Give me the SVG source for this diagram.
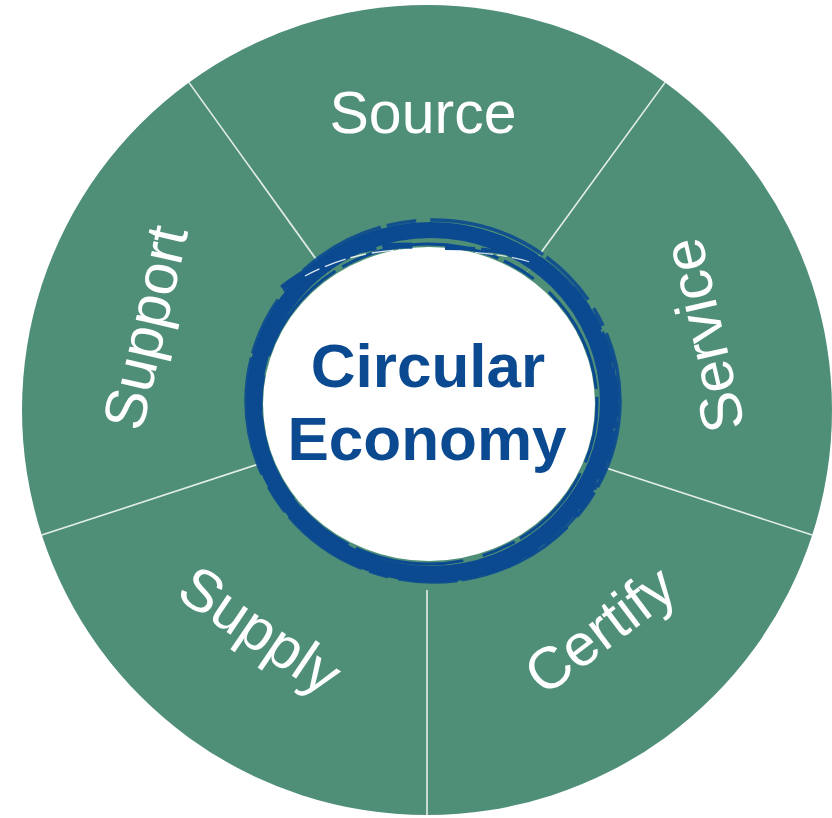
<svg xmlns="http://www.w3.org/2000/svg" width="832" height="818" viewBox="0 0 832 818">
  <style>
    .wedge { fill: #4f8f78; }
    .divider { stroke: #e4eee9; stroke-width: 1.6; stroke-linecap: butt; }
    .label { font-family: "Liberation Sans", Arial, sans-serif; font-size: 59px; fill: #ffffff; text-anchor: middle; }
    .center-text { font-family: "Liberation Sans", Arial, sans-serif; font-size: 62px; font-weight: bold; fill: #0b4a90; text-anchor: middle; }
    .brush { fill: none; stroke: #0b4a90; stroke-linecap: butt; }
  </style>
  <rect width="832" height="818" fill="#ffffff"/>

  <g id="segment-source">
    <path class="wedge" d="M427,410 L188.9,82.4 A405,405 0 0 1 665.1,82.4 Z"/>
    <text class="label" x="423" y="133">Source</text>
  </g>
  <g id="segment-service">
    <path class="wedge" d="M427,410 L665.1,82.4 A405,405 0 0 1 812.2,535.1 Z"/>
    <text class="label" transform="translate(723,331) rotate(-103)" x="0" y="0">Service</text>
  </g>
  <g id="segment-certify">
    <path class="wedge" d="M427,410 L812.2,535.1 A405,405 0 0 1 427,815 Z"/>
    <text class="label" transform="translate(612,646) rotate(-37)" x="0" y="0">Certify</text>
  </g>
  <g id="segment-supply">
    <path class="wedge" d="M427,410 L427,815 A405,405 0 0 1 41.8,535.1 Z"/>
    <text class="label" transform="translate(249,647) rotate(34)" x="0" y="0">Supply</text>
  </g>
  <g id="segment-support">
    <path class="wedge" d="M427,410 L41.8,535.1 A405,405 0 0 1 188.9,82.4 Z"/>
    <text class="label" transform="translate(165,332) rotate(-77)" x="0" y="0">Support</text>
  </g>

  <g id="connectors">
    <line class="divider" x1="427" y1="590" x2="427" y2="815"/>
    <line class="divider" x1="600" y1="466" x2="812.2" y2="535.1"/>
    <line class="divider" x1="540" y1="254" x2="665.1" y2="82.4"/>
    <line class="divider" x1="318" y1="262" x2="188.9" y2="82.4"/>
    <line class="divider" x1="262" y1="463" x2="41.8" y2="535.1"/>
  </g>

  <g id="center-circular-economy">
    <ellipse cx="429" cy="404" rx="166" ry="157" fill="#ffffff"/>
    <!-- main brush band -->
    <ellipse class="brush" cx="431" cy="402" rx="177" ry="172" stroke-width="16"/>
    <!-- rough outer edge -->
    <ellipse class="brush" cx="433" cy="401" rx="187" ry="181" stroke-width="3.5" stroke-dasharray="90 6 30 14 120 4 60 10 20 8" opacity="0.9"/>
    <ellipse class="brush" cx="434" cy="403" rx="184" ry="178" stroke-width="3" stroke-dasharray="14 5 40 7 25 4 70 9" opacity="0.85"/>
    <!-- rough inner edge -->
    <ellipse class="brush" cx="429" cy="404" rx="168" ry="160" stroke-width="3" stroke-dasharray="60 12 90 6 35 20 110 8"/>
    <!-- thicker bottom and right -->
    <path class="brush" d="M316,536 A179,174 0 0 0 520.5,553.7" stroke-width="10" stroke-dasharray="70 3 90 5 60"/>
    <path class="brush" d="M571.7,288.9 A181,176 0 0 1 571.7,515.1" stroke-width="8" stroke-dasharray="50 4 30 5 60 3"/>
    <!-- top streaks over inner white -->
    <path class="brush" d="M282,288 Q330,250 390,246 Q420,244 440,250" stroke-width="6" stroke-linecap="round" stroke-dasharray="40 4 60 6 30"/>
    <path class="brush" d="M445,248 Q500,248 545,262" stroke-width="4" stroke-linecap="round" stroke-dasharray="30 6 40"/>
    <path d="M305,276 Q350,252 400,250" fill="none" stroke="#ffffff" stroke-width="1.4" opacity="0.85" stroke-dasharray="16 6 22 5"/>
    <path d="M460,252 Q500,253 530,262" fill="none" stroke="#ffffff" stroke-width="1.2" opacity="0.8" stroke-dasharray="10 5 18 4"/>
    <text class="center-text" x="428" y="387">Circular</text>
    <text class="center-text" x="427" y="460">Economy</text>
  </g>
</svg>
